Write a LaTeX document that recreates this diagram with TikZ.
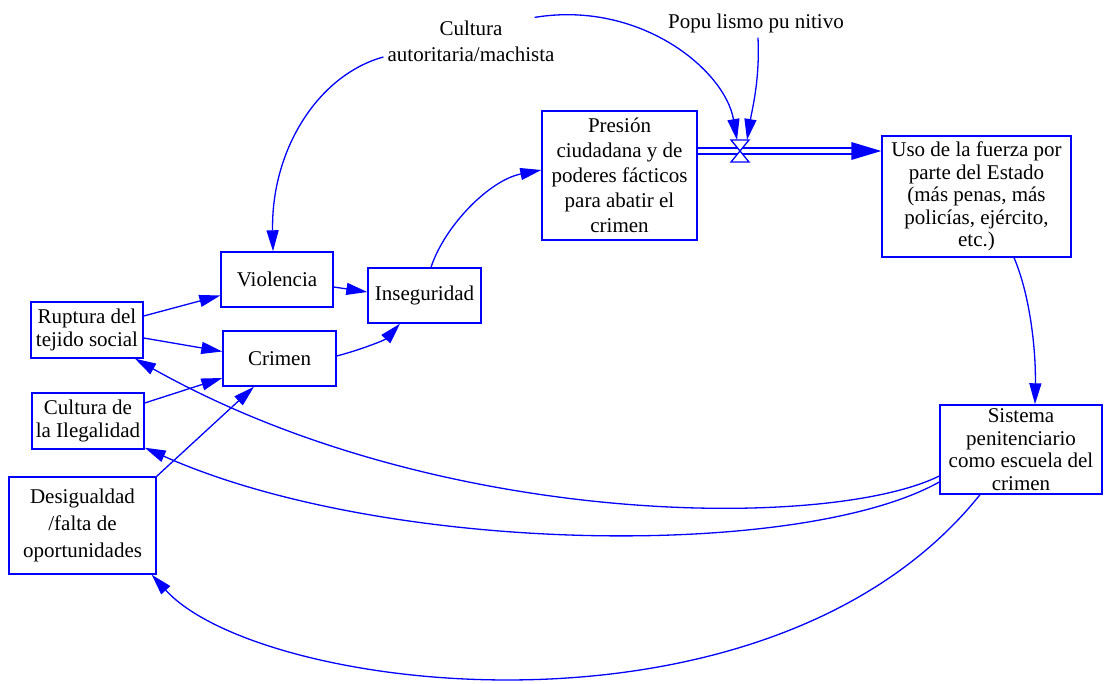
\documentclass[tikz,border=0pt]{standalone}
\usepackage{fontspec}
\setmainfont{Liberation Serif}
\usetikzlibrary{arrows.meta}
\definecolor{lnblue}{RGB}{0,0,255}
\tikzset{
  box/.style={draw=lnblue, line width=1.4pt, align=center, inner sep=0pt,
    font=\fontsize{21}{22.5}\selectfont},
  lbl/.style={align=center, inner sep=0pt, font=\fontsize{21}{26}\selectfont},
  conn/.style={draw=lnblue, line width=1.3pt, -{Triangle[length=21pt,width=12pt]}},
}
\begin{document}
\begin{tikzpicture}[x=1pt,y=-1pt]
\useasboundingbox (0,0) rectangle (1104,684);
% boxes
\node[box, minimum width=155pt, minimum height=129pt, font=\fontsize{21}{25}\selectfont] (pres) at (619.5,175.5)
  {Presión\\ciudadana y de\\poderes fácticos\\para abatir el\\crimen};
\node[box, minimum width=189pt, minimum height=121pt] (uso) at (976.5,196.5)
  {Uso de la fuerza por\\parte del Estado\\(más penas, más\\policías, ejército,\\etc.)};
\node[box, minimum width=162pt, minimum height=89pt] (sis) at (1021,449.5)
  {Sistema\\penitenciario\\como escuela del\\crimen};
\node[box, minimum width=112pt, minimum height=55pt] (viol) at (277,279.5) {Violencia};
\node[box, minimum width=113pt, minimum height=55pt] (inseg) at (424.5,295.5) {Inseguridad};
\node[box, minimum width=112pt, minimum height=56pt] (rupt) at (87,330) {Ruptura del\\tejido social};
\node[box, minimum width=113pt, minimum height=55pt] (crim) at (279.5,358.5) {Crimen};
\node[box, minimum width=112pt, minimum height=56pt] (cult) at (88,421) {Cultura de\\la Ilegalidad};
\node[box, minimum width=147pt, minimum height=97pt, font=\fontsize{21}{27}\selectfont] (desig) at (82.5,525.5)
  {Desigualdad\\/falta de\\oportunidades};
% free labels
\node[lbl] (cauto) at (471,41) {Cultura\\autoritaria/machista};
\node[lbl] (pop) at (756,23) {Popu lismo pu nitivo};
\coordinate (valve) at (740,151);
% flow pipe
\draw[lnblue, line width=1.3pt] ([yshift=27.5pt]pres.east) -- ([xshift=-29pt,yshift=48.5pt]uso.west);
\draw[lnblue, line width=1.3pt] ([yshift=21.5pt]pres.east) -- ([xshift=-29pt,yshift=42.5pt]uso.west);
\fill[lnblue] ([yshift=45.5pt]uso.west) -- ++(-30pt,9pt) -- ++(0pt,-18pt) -- cycle;
% valve
\draw[lnblue, line width=1.3pt, fill=white] (valve) -- ++(-9pt,11pt) -- ++(18pt,0pt) -- cycle;
\draw[lnblue, line width=1.3pt, fill=white] (valve) -- ++(-9pt,-11pt) -- ++(18pt,0pt) -- cycle;
% connectors
\draw[conn] ([xshift=-4pt,yshift=-16pt]cauto.west) .. controls (318,75) and (271,150) .. ([xshift=-4pt]viol.north);
\draw[conn] ([xshift=-20pt,yshift=3pt]cauto.north east) .. controls (640,0) and (725,70) .. ([xshift=-3pt,yshift=11pt]valve);
\draw[conn] ([xshift=2pt,yshift=-5pt]pop.south) .. controls (760,80) and (752,110) .. ([xshift=7pt,yshift=11pt]valve);
\draw[conn] ([yshift=14pt]rupt.east) -- ([yshift=-16pt]viol.west);
\draw[conn] ([yshift=-8pt]rupt.east) -- ([yshift=7pt]crim.west);
\draw[conn] ([yshift=18pt]cult.east) -- ([yshift=-19.5pt]crim.west);
\draw[conn] (desig.north east) -- ([xshift=-25.5pt]crim.south);
\draw[conn] ([yshift=-7.5pt]viol.east) -- ([yshift=3.5pt]inseg.west);
\draw[conn] ([yshift=2.5pt]crim.east) .. controls (360,350) and (385,340) .. ([xshift=-24.5pt]inseg.south);
\draw[conn] ([xshift=6.5pt]inseg.north) .. controls (445,225) and (490,180) .. ([yshift=5.5pt]pres.west);
\draw[conn] ([xshift=37.5pt]uso.south) .. controls (1030,295) and (1036,350) .. ([xshift=14pt]sis.north);
\draw[conn] ([yshift=-26.5pt]sis.west) .. controls (830,530) and (440,530) .. ([xshift=48pt]rupt.south);
\draw[conn] ([yshift=-32.5pt]sis.west) .. controls (800,560) and (385,555) .. ([yshift=2pt]cult.south east);
\draw[conn] ([xshift=-41pt]sis.south) .. controls (770,757) and (260,694) .. ([xshift=-5pt]desig.south east);
\end{tikzpicture}
\end{document}
